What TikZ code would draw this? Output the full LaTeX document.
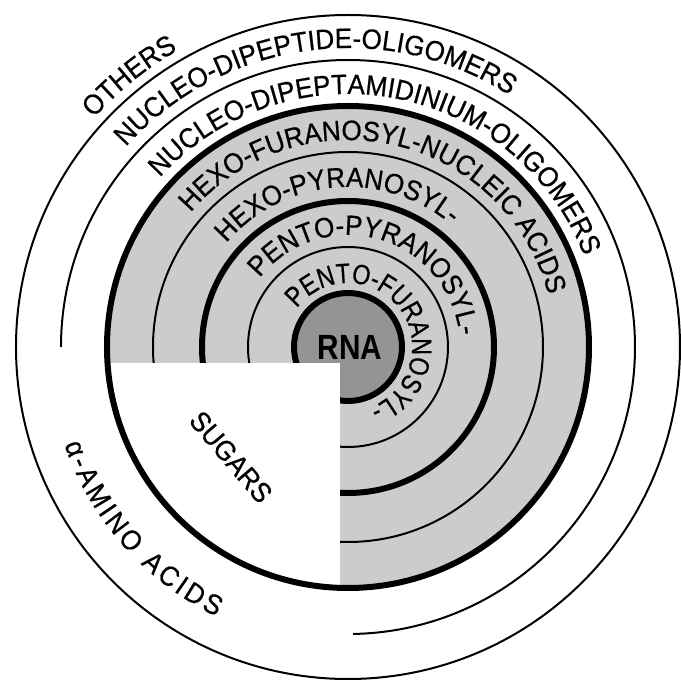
\documentclass[tikz,border=0pt]{standalone}
\usepackage{fontspec}
\setmainfont{Liberation Sans}
\newfontfamily\rnafont{Liberation Sans}[FakeStretch=0.85]
\newfontfamily\ringfamily{Liberation Sans}[FakeStretch=0.93,FakeBold=0.6]
\newfontfamily\innerringfamily{Liberation Sans}[FakeStretch=0.83,FakeBold=0.6]
\usetikzlibrary{decorations.text}
\newcommand\ringfont{\ringfamily\fontsize{14}{16}\selectfont}
\newcommand\innerringfont{\innerringfamily\fontsize{14}{16}\selectfont}
\begin{document}
\begin{tikzpicture}[x=.5pt,y=.5pt,
  thinring/.style={line width=1pt},
  thickring/.style={line width=3pt},
  ringlabel/.style={decorate,decoration={text along path,text align=left,
    text={|\ringfont|#1}}},
  innerlabel/.style={decorate,decoration={text along path,text align=left,
    text={|\innerringfont|#1}}},
  spreadlabel/.style={decorate,decoration={text along path,text align=fit to path,
    text={|\ringfont|#1}}},
  rnalabel/.style={inner sep=0pt,font=\rnafont\bfseries\fontsize{17.5}{19}\selectfont},
  sugarlabel/.style={inner sep=0pt,font=\ringfont,rotate=-49.5}]
\useasboundingbox (-348,-333) rectangle (333,347);
\coordinate (hub) at (0,0);
\fill[black!20] (hub) circle[radius=241];
\fill[black!42] (hub) circle[radius=54];
\draw[thickring] (hub) circle[radius=54];
\draw[thinring] (hub) circle[radius=100];
\draw[thickring] (hub) circle[radius=146];
\draw[thinring] (hub) circle[radius=195];
\begin{scope}
\clip (hub) circle[radius=240];
\fill[white] (-8,-16) rectangle (-250,-250);
\end{scope}
\draw[thickring] (hub) circle[radius=241];
\draw[thinring] (-89:287) arc[start angle=-89,end angle=180,radius=287];
\draw[thinring] (hub) circle[radius=332];
\node[rnalabel] (rna) at (2,0) {RNA};
\node[sugarlabel] (sugars) at (-117,-110) {SUGARS};
\path[ringlabel={OTHERS}] (138:342) arc[start angle=138,end angle=90,radius=342];
\path[ringlabel={NUCLEO-DIPEPTIDE-OLIGOMERS}] (138:299) arc[start angle=138,end angle=20,radius=299];
\path[ringlabel={NUCLEO-DIPEPTAMIDINIUM-OLIGOMERS}] (138:253) arc[start angle=138,end angle=-20,radius=253];
\path[ringlabel={HEXO-FURANOSYL-NUCLEIC ACIDS}] (139.5:207) arc[start angle=139.5,end angle=-30,radius=207];
\path[ringlabel={HEXO-PYRANOSYL-}] (139.5:160) arc[start angle=139.5,end angle=0,radius=160];
\path[ringlabel={PENTO-PYRANOSYL-}] (142:112) arc[start angle=142,end angle=-40,radius=112];
\path[innerlabel={PENTO-FURANOSYL-}] (143:64) arc[start angle=143,end angle=-120,radius=64];
\path[spreadlabel={α-AMINO ACIDS}] (199:300) arc[start angle=199,end angle=244,radius=300];
\end{tikzpicture}
\end{document}
